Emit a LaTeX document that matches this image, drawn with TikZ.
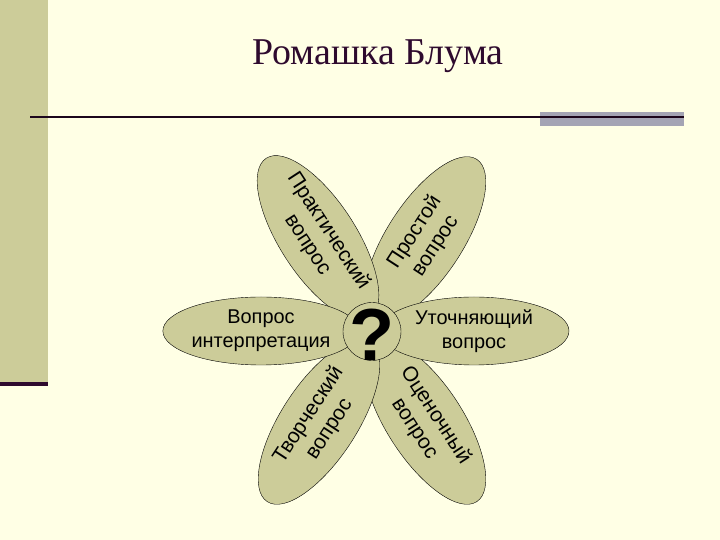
\documentclass[tikz,border=0pt]{standalone}
\usepackage{fontspec}
\setmainfont{Liberation Serif}
\newfontfamily\petalfont{Liberation Sans}
\usetikzlibrary{shapes.geometric}
\definecolor{paper}{RGB}{255,255,229}
\definecolor{olive}{RGB}{204,204,153}
\definecolor{plum}{RGB}{46,10,46}
\definecolor{slate}{RGB}{164,164,180}

\begin{document}
\begin{tikzpicture}[x=1bp, y=1bp,
    petal/.style={ellipse, draw, fill=olive, inner sep=0pt, minimum width=190bp,
      minimum height=76bp, align=center, font=\petalfont\fontsize{21}{25}\selectfont},
    sidepetal/.style={petal, minimum height=68bp, font=\petalfont\fontsize{20}{24}\selectfont}]
  % slide background, side strip and title rule
  \fill[paper] (0, 0) rectangle (720, 540);
  \fill[olive] (0, 158) rectangle (48, 540);
  \fill[plum] (0, 154) rectangle (48, 158);
  \fill[slate] (540, 414) rectangle (684, 428);
  \draw[line width=2.5bp, plum!60!black] (30, 423) -- (684, 423);
  \node[plum, font=\fontsize{38}{44}\selectfont] (title) at (378, 484) {Ромашка Блума};
  % petals
  \node[petal, rotate=57] (simple) at (425, 301) {Простой\\вопрос};
  \node[petal, rotate=-57] (practical) at (318, 302) {Практический\\вопрос};
  \node[petal, rotate=-57] (evaluate) at (425, 118) {Оценочный\\вопрос};
  \node[petal, rotate=57] (creative) at (319, 118) {Творческий\\вопрос};
  \node[sidepetal] (interpret) at (261, 209) {Вопрос\\интерпретация};
  \node[sidepetal] (clarify) at (474, 209) {Уточняющий\\вопрос};
  % heart of the flower
  \node[circle, draw, fill=olive, minimum size=58bp] (core) at (372, 208.5) {};
  \node[font=\petalfont\bfseries\fontsize{74}{74}\selectfont, yshift=-3bp] (ask) at (core) {?};
\end{tikzpicture}
\end{document}
